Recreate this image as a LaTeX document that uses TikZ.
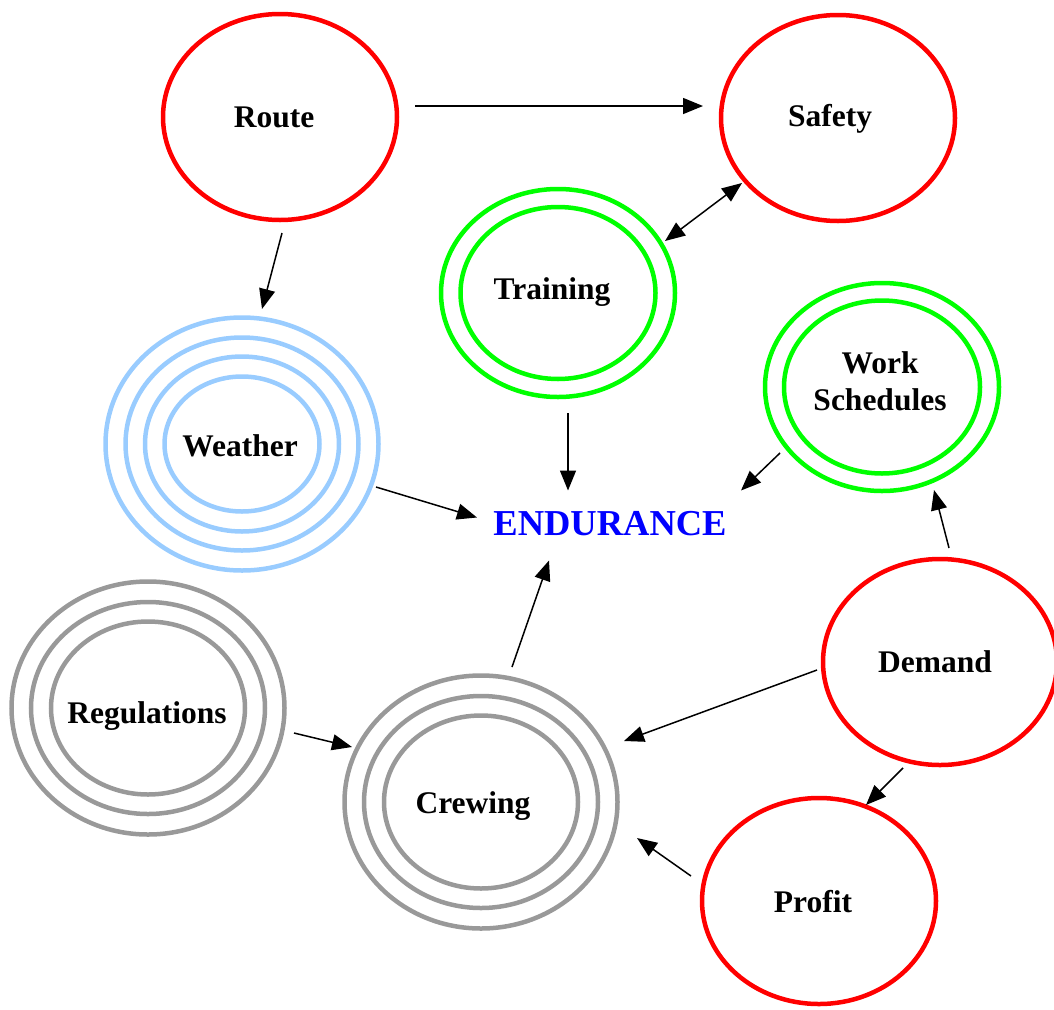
\documentclass[tikz,border=0pt]{standalone}
\usepackage{fontspec}
\setmainfont{Liberation Serif}
\usetikzlibrary{arrows.meta,shapes.geometric,calc}
\definecolor{cred}{RGB}{255,0,0}
\definecolor{cgreen}{RGB}{0,255,0}
\definecolor{clblue}{RGB}{153,204,255}
\definecolor{cgray}{RGB}{153,153,153}
\definecolor{cblue}{RGB}{0,0,255}
\begin{document}
\begin{tikzpicture}[x=1pt,y=-1pt,
  lbl/.style={font=\fontsize{31.5}{37}\selectfont\bfseries, align=center, text=black},
  ring/.style={line width=4.5pt},
  shp/.style={ellipse, ring, inner sep=0pt},
  single/.style={shp, draw=cred, minimum width=234pt, minimum height=206pt},
  dbl/.style={shp, draw=cgreen, minimum width=234pt, minimum height=208pt},
  quad/.style={shp, draw=clblue, minimum width=273pt, minimum height=253pt},
  tri/.style={shp, draw=cgray, minimum width=273pt, minimum height=253pt},
  arr/.style={line width=1.5pt, -{Triangle[length=20pt,width=16pt]}},
  barr/.style={line width=1.5pt, {Triangle[length=20pt,width=16pt]}-{Triangle[length=20pt,width=16pt]}}
]
\useasboundingbox (0,0) rectangle (1054,1009);

% nodes
\node[single, label={[lbl,xshift=-6pt]center:Route}] (route) at (280,117) {};
\node[single, label={[lbl,xshift=-8pt,yshift=-1pt]center:Safety}] (safety) at (838,118) {};
\node[dbl, label={[lbl,xshift=-6pt,yshift=1pt]center:Training}] (training) at (558,293) {};
\draw[cgreen, ring] (training) ellipse [x radius=97.5pt, y radius=86pt];
\node[dbl, label={[lbl,xshift=-2pt,yshift=6pt]center:Work\\Schedules}] (work) at (882,387) {};
\draw[cgreen, ring] (work) ellipse [x radius=98pt, y radius=86.5pt];
\node[quad, label={[lbl,xshift=-2pt,yshift=-2pt]center:Weather}] (weather) at (242,444) {};
\draw[clblue, ring] (weather) ellipse [x radius=116.5pt, y radius=106.5pt];
\draw[clblue, ring] (weather) ellipse [x radius=97pt, y radius=87.5pt];
\draw[clblue, ring] (weather) ellipse [x radius=77.5pt, y radius=67.5pt];
\node[font=\fontsize{36.5}{40}\selectfont\bfseries, text=cblue, inner sep=0pt] (endurance) at (610,523.5) {ENDURANCE};
\node[tri, label={[lbl,xshift=-1pt,yshift=-8pt]center:Regulations}] (regulations) at (148,708) {};
\draw[cgray, ring] (regulations) ellipse [x radius=117pt, y radius=106pt];
\draw[cgray, ring] (regulations) ellipse [x radius=97pt, y radius=86.5pt];
\node[tri, label={[lbl,xshift=-8pt,yshift=-4pt]center:Crewing}] (crewing) at (481,802) {};
\draw[cgray, ring] (crewing) ellipse [x radius=117pt, y radius=106pt];
\draw[cgray, ring] (crewing) ellipse [x radius=97pt, y radius=86.5pt];
\node[single, label={[lbl,xshift=-5pt]center:Demand}] (demand) at (940,662) {};
\node[single, label={[lbl,xshift=-6pt,yshift=-1pt]center:Profit}] (profit) at (819,901) {};

% connectors
\draw[arr] ($(route)+(135,-11)$) -- ($(safety)+(-135,-12)$);
\draw[arr] ($(route)+(2,116)$) -- ($(weather)+(20,-135)$);
\draw[barr] ($(training)+(107,-52)$) -- ($(safety)+(-96,65)$);
\draw[arr] ($(training)+(10,120)$) -- ($(endurance)+(-42,-33)$);
\draw[arr] ($(weather)+(134,43)$) -- ($(endurance)+(-133,-6)$);
\draw[arr] ($(work)+(-102,66)$) -- ($(endurance)+(131,-33)$);
\draw[arr] ($(demand)+(9,-114)$) -- ($(work)+(52,103)$);
\draw[arr] ($(crewing)+(31,-135)$) -- ($(endurance)+(-61,37)$);
\draw[arr] ($(regulations)+(146,25)$) -- ($(crewing)+(-129,-55)$);
\draw[arr] ($(demand)+(-123,8)$) -- ($(crewing)+(143,-61)$);
\draw[arr] ($(demand)+(-37,106)$) -- ($(profit)+(47,-96)$);
\draw[arr] ($(profit)+(-128,-25)$) -- ($(crewing)+(156,36)$);
\end{tikzpicture}
\end{document}
